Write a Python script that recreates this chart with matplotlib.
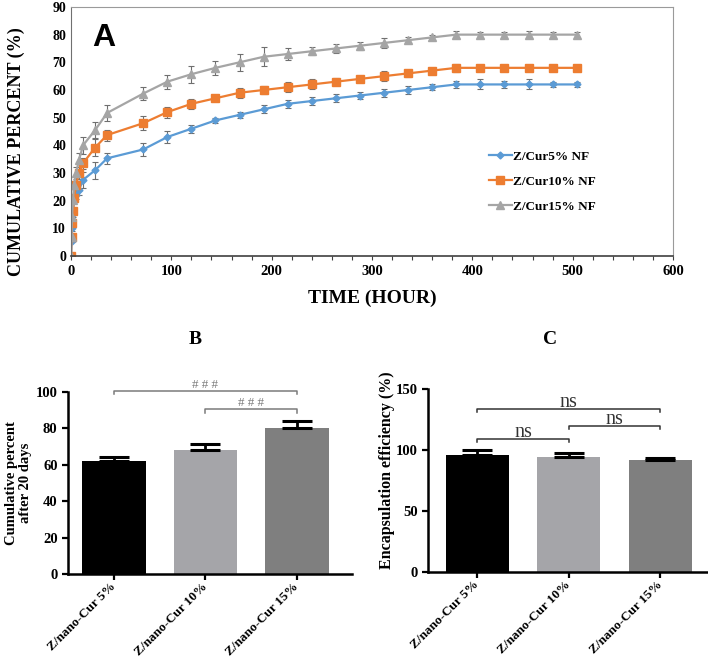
import matplotlib
matplotlib.use("Agg")
from matplotlib import pyplot as plt
from matplotlib.lines import Line2D
from matplotlib.ticker import MultipleLocator

# release profile data (hours, %)
time_h = [0, 0.5, 1, 2, 3, 5, 8, 12, 24, 36, 72, 96, 120, 144, 168, 192, 216, 240,
          264, 288, 312, 336, 360, 384, 408, 432, 456, 480, 504]
cur5 = [0, 5.5, 10, 15, 20.5, 22, 24, 27.5, 31, 35.3, 38.5, 43, 46, 49, 51, 53, 55, 56,
        57, 58, 59, 60, 61, 62, 62, 62, 62, 62, 62]
cur5_err = [0, 0.5, 0.8, 1, 1, 1.5, 2, 3, 3, 2, 2.5, 2, 1.5, 1, 1.2, 1.5, 1.5, 1.5,
            1.5, 1.2, 1.5, 1.5, 1, 1.2, 1.8, 1.2, 1.8, 1, 1]
cur10 = [0, 6.7, 11.8, 16.4, 20.8, 25.5, 30, 33.5, 39.2, 43.7, 48, 52, 55, 57, 59, 60, 61, 62,
         63, 64, 65, 66, 67, 68, 68, 68, 68, 68, 68]
cur10_err = [0, 0.5, 0.8, 1, 1, 1.5, 2, 2, 3, 2, 2.5, 2, 1.8, 1, 1.8, 1.5, 1.8, 1.8,
             1.2, 1, 1.8, 1.2, 1, 1.5, 1, 0.8, 0.8, 0.8, 0.8]
cur15 = [0, 7, 14.2, 20.2, 25.6, 30, 34.7, 40, 45.5, 51.7, 58.7, 63, 65.7, 68, 70, 72, 73, 74,
         75, 76, 77, 78, 79, 80, 80, 80, 80, 80, 80]
cur15_err = [0, 0.5, 0.8, 1, 1.5, 2, 2.5, 3, 3, 2.8, 2.5, 2.5, 3, 2.5, 3, 3.5, 2, 1.5,
             1.5, 1.5, 1.8, 1, 1, 1.3, 1, 1, 1.2, 1, 1]

# bar charts
groups = ["Z/nano-Cur 5%", "Z/nano-Cur 10%", "Z/nano-Cur 15%"]
release_20d = [62, 68, 80]
release_20d_err = [2.5, 3.5, 4]
encap_eff = [96.5, 94.5, 91.7]
encap_eff_err = [4, 3, 2]
bar_colors = ["#000000", "#a5a5a9", "#7f7f7f"]

serif = "Liberation Serif"

fig = plt.figure(figsize=(7.08, 6.64), dpi=100)

# ---- A: cumulative release ----
ax = fig.add_axes([0.1003, 0.6145, 0.8503, 0.375])
series = [(cur5, cur5_err, "#5b9bd5", "D", 3.5, "Z/Cur5% NF"),
          (cur10, cur10_err, "#ed7d31", "s", 5.5, "Z/Cur10% NF"),
          (cur15, cur15_err, "#a5a5a5", "^", 5.5, "Z/Cur15% NF")]
handles = []
for vals, err, col, mk, ms, lab in series:
    ax.errorbar(time_h, vals, yerr=err, color=col, marker=mk, markersize=ms,
                linewidth=1.6, ecolor="#6f6f6f", elinewidth=0.8, capsize=2.2,
                capthick=0.8)
    handles.append(Line2D([], [], color=col, marker=mk, markersize=ms, linewidth=1.6, label=lab))
ax.set_xlim(0, 600)
ax.set_ylim(0, 90)
ax.xaxis.set_major_locator(MultipleLocator(100))
ax.xaxis.set_minor_locator(MultipleLocator(20))
ax.yaxis.set_major_locator(MultipleLocator(10))
ax.tick_params(axis="x", which="both", direction="out", length=3, width=0.8, colors="#404040")
ax.tick_params(axis="y", length=0)
for lbl in ax.get_xticklabels():
    lbl.set_fontfamily(serif); lbl.set_fontweight("bold"); lbl.set_fontsize(10.5); lbl.set_color("black")
for lbl in ax.get_yticklabels():
    lbl.set_fontfamily(serif); lbl.set_fontweight("bold"); lbl.set_fontsize(10)
ax.spines["left"].set_color("#707070")
ax.spines["bottom"].set_color("#404040")
ax.spines["bottom"].set_linewidth(1.2)
ax.spines["top"].set_color("#9a9a9a")
ax.spines["right"].set_color("#9a9a9a")
ax.set_xlabel("TIME (HOUR)", fontfamily=serif, fontweight="bold", fontsize=14)
ax.set_ylabel("CUMULATIVE PERCENT (%)", fontfamily=serif, fontweight="bold", fontsize=13)
ax.xaxis.set_label_coords(0.5, -0.135)
ax.yaxis.set_label_coords(-0.076, 0.42)
ax.text(0.035, 0.935, "A", transform=ax.transAxes, fontfamily="Liberation Sans",
        fontweight="bold", fontsize=23, va="top", ha="left")
ax.legend(handles=handles, loc="upper left", bbox_to_anchor=(0.675, 0.47), frameon=False,
          prop={"family": serif, "weight": "bold", "size": 9.5},
          handlelength=1.7, labelspacing=0.95, handletextpad=0.1)


def bar_panel(rect, vals, errs, ylim, step, ylabel, xlim, lsize):
    bx = fig.add_axes(rect)
    pos = list(range(len(groups)))
    bx.bar(pos, vals, width=0.69, color=bar_colors)
    bx.errorbar(pos, vals, yerr=[[0] * len(errs), errs], fmt="none", ecolor="black",
                elinewidth=2, capsize=11, capthick=2.2)
    bx.set_xlim(*xlim)
    bx.set_ylim(*ylim)
    bx.yaxis.set_major_locator(MultipleLocator(step))
    bx.set_xticks(pos)
    bx.set_xticklabels(groups, rotation=45, ha="right", va="center", rotation_mode="anchor",
                       fontfamily=serif, fontweight="bold", fontsize=9.5)
    for lbl in bx.get_yticklabels():
        lbl.set_fontfamily(serif); lbl.set_fontweight("bold"); lbl.set_fontsize(10.5)
    bx.tick_params(direction="out", length=4, width=1.6)
    bx.tick_params(axis="x", pad=4)
    bx.spines["top"].set_visible(False)
    bx.spines["right"].set_visible(False)
    bx.spines["left"].set_linewidth(1.8)
    bx.spines["bottom"].set_linewidth(1.8)
    bx.set_ylabel(ylabel, fontfamily=serif, fontweight="bold", fontsize=lsize, linespacing=1.1)
    return bx


def sig_line(bx, x0, x1, y, txt, color, tick, size, gap):
    bx.plot([x0, x0, x1, x1], [y - tick, y, y, y - tick], color=color, lw=1.1, clip_on=False)
    bx.text((x0 + x1) / 2, y + gap, txt, ha="center", va="baseline", color=color,
            fontfamily=serif, fontsize=size)


# ---- B ----
bB = bar_panel([0.096, 0.1355, 0.401, 0.274], release_20d, release_20d_err,
               (0, 100), 20, "Cumulative percent\nafter 20 days", (-0.503, 2.6), 10.5)
bB.yaxis.set_label_coords(-0.127, 0.5)
sig_line(bB, 0, 2, 100.5, "# # #", "#7a7a7a", 1.8, 9.4, 2.0)
sig_line(bB, 1, 2, 90.5, "# # #", "#7a7a7a", 1.8, 9.4, 2.0)
fig.text(0.276, 0.488, "B", fontfamily=serif, fontweight="bold", fontsize=14, ha="center", va="center")

# ---- C ----
bC = bar_panel([0.6045, 0.1385, 0.394, 0.275], encap_eff, encap_eff_err,
               (0, 150), 50, "Encapsulation efficiency (%)", (-0.54, 2.51), 11.5)
bC.yaxis.set_label_coords(-0.12, 0.56)
sig_line(bC, 0, 2, 134, "ns", "#333333", 2.5, 14.5, 1.5)
sig_line(bC, 1, 2, 120, "ns", "#333333", 2.5, 14.5, 1.5)
sig_line(bC, 0, 1, 109.5, "ns", "#333333", 2.5, 14.5, 1.5)
fig.text(0.777, 0.488, "C", fontfamily=serif, fontweight="bold", fontsize=14, ha="center", va="center")

fig.savefig("out.png", dpi=100)
